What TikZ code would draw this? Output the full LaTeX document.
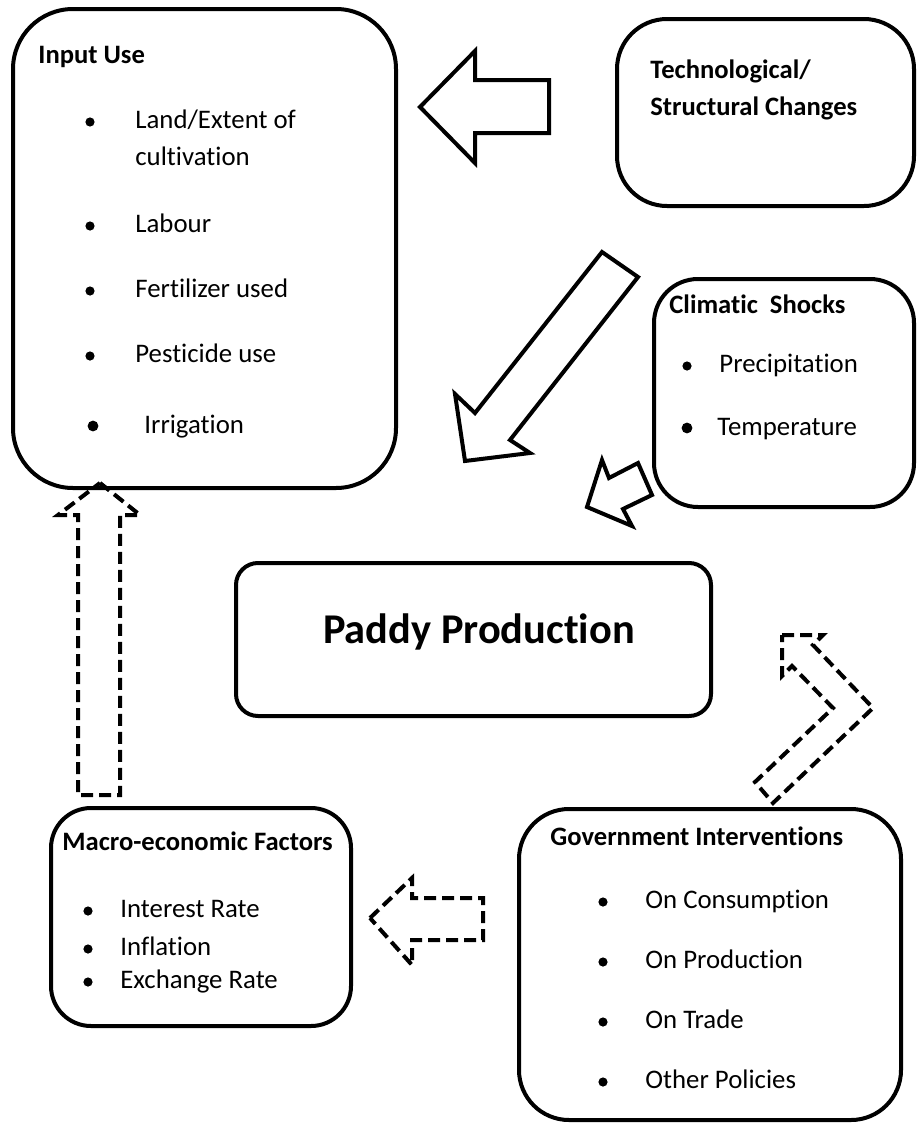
\documentclass[tikz,border=0pt]{standalone}
\usepackage{fontspec}
\setmainfont[RawFeature={-liga;-clig;-calt;-rlig;-dlig}]{Carlito}
\usetikzlibrary{calc}

\tikzset{
  box/.style={black, line width=2pt, rounded corners=#1},
  box/.default=20pt,
  blockarrow/.style={black, line width=2pt, line join=miter},
  dasharrow/.style={black, line width=2pt, line join=miter, dash pattern=on 6pt off 3pt},
  txt/.style={anchor=base west, inner sep=0pt, font=\fontsize{13.4}{15}\selectfont},
  head/.style={anchor=base west, inner sep=0pt, font=\fontsize{13.3}{15}\selectfont\bfseries},
  dot/.style={circle, fill=black, inner sep=0pt, minimum size=4.6pt},
  bigdot/.style={circle, fill=black, inner sep=0pt, minimum size=5.4pt},
}

\begin{document}
\begin{tikzpicture}[x=0.5pt, y=-0.5pt]

\useasboundingbox (0,0) rectangle (918,1124);

% boxes
\coordinate (inA) at (13,9);
\coordinate (inB) at (396,488);
\coordinate (teA) at (617,19);
\coordinate (teB) at (914,206);
\coordinate (clA) at (654,279);
\coordinate (clB) at (914,507);
\coordinate (paA) at (236,563);
\coordinate (paB) at (711,716);
\coordinate (maA) at (51,808);
\coordinate (maB) at (351,1026);
\coordinate (goA) at (519,809);
\coordinate (goB) at (901,1120);

\draw[box=30pt] (inA) rectangle (inB);
\draw[box=25pt] (teA) rectangle (teB);
\draw[box=22pt] (clA) rectangle (clB);
\draw[box=11pt] (paA) rectangle (paB);
\draw[box=20pt] (maA) rectangle (maB);
\draw[box=25pt] (goA) rectangle (goB);

% Input Use
\node[head] (inT) at (38,63) {Input Use};
\node[dot] (inD1) at (90,122) {};
\node[txt] (in1a) at (135,128) {Land/Extent of};
\node[txt] (in1b) at (135,165) {cultivation};
\node[dot] (inD2) at (90,226) {};
\node[txt] (in2) at (135,232) {Labour};
\node[dot] (inD3) at (90,291) {};
\node[txt] (in3) at (135,297) {Fertilizer used};
\node[dot] (inD4) at (90,356) {};
\node[txt] (in4) at (135,362) {Pesticide use};
\node[bigdot] (inD5) at (93,426) {};
\node[txt] (in5) at (144,433) {Irrigation};

% Technological changes
\node[head] (teT1) at (650,78) {Technological/};
\node[head] (teT2) at (650,115) {Structural Changes};

% Climatic shocks
\node[head] (clT) at (669,313) {Climatic\ \ Shocks};
\node[dot] (clD1) at (687,366) {};
\node[txt] (cl1) at (719,372) {Precipitation};
\node[bigdot] (clD2) at (687,428) {};
\node[txt] (cl2) at (717,435) {Temperature};

% Paddy production
\node[anchor=base, inner sep=0pt, font=\fontsize{21.2}{24}\selectfont\bfseries] (paT) at (479,643) {Paddy Production};

% Macro-economic factors
\node[head] (maT) at (62,850) {Macro-economic Factors};
\node[dot] (maD1) at (88,911) {};
\node[txt] (ma1) at (120,917) {Interest Rate};
\node[dot] (maD2) at (88,949) {};
\node[txt] (ma2) at (120,955) {Inflation};
\node[dot] (maD3) at (88,982) {};
\node[txt] (ma3) at (120,988) {Exchange Rate};

% Government interventions
\node[head] (goT) at (550,845) {Government Interventions};
\node[dot] (goD1) at (603,902) {};
\node[txt] (go1) at (645,908) {On Consumption};
\node[dot] (goD2) at (603,962) {};
\node[txt] (go2) at (645,968) {On Production};
\node[dot] (goD3) at (603,1022) {};
\node[txt] (go3) at (645,1028) {On Trade};
\node[dot] (goD4) at (603,1082) {};
\node[txt] (go4) at (645,1088) {Other Policies};

% solid block arrows
\draw[blockarrow] (420,107) -- (475,51) -- (475,80) -- (549,80) -- (549,133) -- (475,133) -- (475,163) -- cycle;
\draw[blockarrow] (602,252) -- (475,413) -- (455,394) -- (465,461) -- (530,453) -- (510,440) -- (638,277) -- cycle;
\draw[blockarrow] (587,507) -- (602,460) -- (609,478) -- (638,463) -- (652,495) -- (623,509) -- (632,526) -- cycle;

% dashed block arrows
\draw[dasharrow] (100,483) -- (140,515) -- (120,515) -- (120,795) -- (78,795) -- (78,515) -- (58,515) -- cycle;
\draw[dasharrow] (370,918) -- (412,878) -- (412,898) -- (483,898) -- (483,940) -- (412,940) -- (412,965) -- cycle;
\draw[dasharrow] (782,635) -- (823,635) -- (813,645) -- (873,708) -- (773,803) -- (755,782) -- (833,708) -- (792,666) -- (782,676) -- cycle;

\end{tikzpicture}
\end{document}
